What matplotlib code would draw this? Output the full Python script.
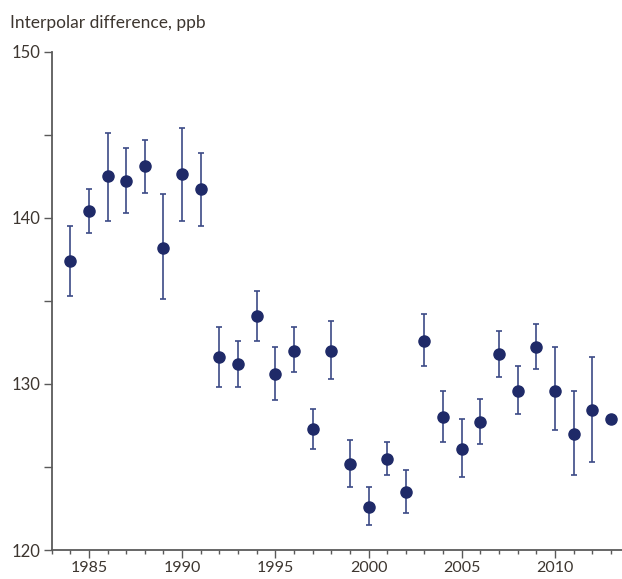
import matplotlib.pyplot as plt
from matplotlib.ticker import MultipleLocator

years = list(range(1984, 2014))
diff = [137.4, 140.4, 142.5, 142.2, 143.1, 138.2, 142.6, 141.7,
        131.6, 131.2, 134.1, 130.6, 132.0, 127.3, 132.0, 125.2,
        122.6, 125.5, 123.5, 132.6, 128.0, 126.1, 127.7, 131.8,
        129.6, 132.2, 129.6, 127.0, 128.4, 127.9]
err_top = [139.5, 141.7, 145.1, 144.2, 144.7, 141.4, 145.4, 143.9,
           133.4, 132.6, 135.6, 132.2, 133.4, 128.5, 133.8, 126.6,
           123.8, 126.5, 124.8, 134.2, 129.6, 127.9, 129.1, 133.2,
           131.1, 133.6, 132.2, 129.6, 131.6, 127.9]
err_bot = [135.3, 139.1, 139.8, 140.3, 141.5, 135.1, 139.8, 139.5,
           129.8, 129.8, 132.6, 129.0, 130.7, 126.1, 130.3, 123.8,
           121.5, 124.5, 122.2, 131.1, 126.5, 124.4, 126.4, 130.4,
           128.2, 130.9, 127.2, 124.5, 125.3, 127.9]

lower = [d - b for d, b in zip(diff, err_bot)]
upper = [t - d for d, t in zip(diff, err_top)]

plt.rcParams['font.family'] = ['Lato', 'DejaVu Sans']
txt = '#3d3630'
axc = '#5a5a5a'

fig = plt.figure(figsize=(6.22, 5.79), dpi=100)
ax = fig.add_axes([0.083, 0.050, 0.917, 0.861])

ax.errorbar(years, diff, yerr=[lower, upper], fmt='none', ecolor='#3c4a86',
            elinewidth=1.2, capsize=2.5, capthick=1.2, zorder=2)
ax.plot(years, diff, 'o', color='#1f2a68', markersize=8, zorder=3)

ax.set_xlim(1983, 2013.6)
ax.set_ylim(120, 150)
ax.xaxis.set_major_locator(MultipleLocator(5))
ax.xaxis.set_minor_locator(MultipleLocator(1))
ax.yaxis.set_major_locator(MultipleLocator(10))
ax.yaxis.set_minor_locator(MultipleLocator(5))

for s in ['top', 'right']:
    ax.spines[s].set_visible(False)
for s in ['left', 'bottom']:
    ax.spines[s].set_color(axc)
    ax.spines[s].set_linewidth(1.3)

ax.tick_params(axis='x', which='major', length=6, width=1, color=axc,
               labelsize=11.5, labelcolor=txt, pad=2)
ax.tick_params(axis='x', which='minor', length=3, width=1, color=axc)
ax.tick_params(axis='y', which='both', length=6, width=1, color=axc,
               labelsize=12, labelcolor=txt, pad=2)

fig.text(0.016, 0.952, 'Interpolar difference, ppb', fontsize=12.5,
         color=txt, ha='left', va='baseline')

fig.savefig('out.png', dpi=100)
